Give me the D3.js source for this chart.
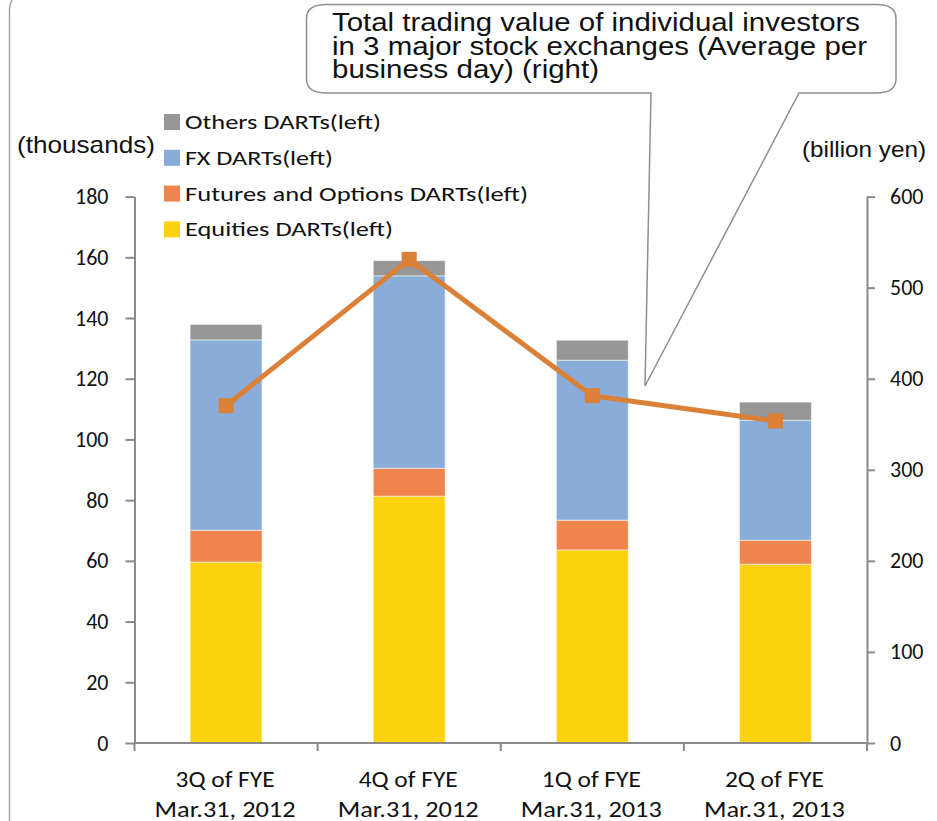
<!DOCTYPE html>
<html><head><meta charset="utf-8">
<script src="https://cdn.jsdelivr.net/npm/d3@7"></script>
<style>body{margin:0;background:#fff}svg{display:block}</style>
</head><body>
<svg id="c" width="937" height="821"></svg>
<script>
// ---- data ----
const categories = ["3Q FYE2012", "4Q FYE2012", "1Q FYE2013", "2Q FYE2013"];
const catLine1 = ["3Q of FYE", "4Q of FYE", "1Q of FYE", "2Q of FYE"];
const catLine2 = ["Mar.31, 2012", "Mar.31, 2012", "Mar.31, 2013", "Mar.31, 2013"];
const equities = [59.6, 81.3, 63.6, 58.9];
const futures = [10.5, 9.2, 9.8, 7.9];
const fx = [62.7, 63.4, 52.7, 39.5];
const others = [5.1, 5.0, 6.6, 6.0];
const tradingValue = [370.4, 531.1, 381.4, 353.6];
const leftTicks = [0, 20, 40, 60, 80, 100, 120, 140, 160, 180];
const rightTicks = [0, 100, 200, 300, 400, 500, 600];
const seriesNames = ["Equities DARTs(left)", "Futures and Options DARTs(left)", "FX DARTs(left)", "Others DARTs(left)"];
const seriesKeys = ["equities", "futures", "fx", "others"];
const seriesColors = ["#FCD20F", "#EF844C", "#8AACD8", "#979797"];
const calloutLines = ["Total trading value of individual investors", "in 3 major stock exchanges (Average per", "business day) (right)"];

const svg = d3.select("#c");
const calibri = "Carlito, Lato, 'Open Sans', sans-serif";
const arial = "'Liberation Sans', Arial, sans-serif";
const axisCol = "#8a8a8a";

// outer frame
svg.append("rect").attr("x", 9.5).attr("y", -12).attr("width", 1000).attr("height", 900)
  .attr("rx", 22).attr("fill", "#fff").attr("stroke", "#a6a6a6").attr("stroke-width", 1.5);

// scales
const x = d3.scaleBand().domain(categories).range([134.5, 867]).paddingInner(0.607).paddingOuter(0.3035);
const y = d3.scaleLinear().domain([0, 180]).range([743, 196.6]);
const yR = d3.scaleLinear().domain([0, 600]).range([743, 196.6]);

// stacked bars
const rows = categories.map((c, i) => ({cat: c, equities: equities[i], futures: futures[i], fx: fx[i], others: others[i]}));
const stack = d3.stack().keys(seriesKeys)(rows);
svg.append("g").selectAll("g").data(stack).join("g")
  .attr("fill", (d, i) => seriesColors[i])
  .selectAll("rect").data(d => d).join("rect")
  .attr("x", d => x(d.data.cat)).attr("width", x.bandwidth())
  .attr("y", d => y(d[1])).attr("height", d => y(d[0]) - y(d[1]))
  .attr("stroke", "rgba(255,255,255,0.55)").attr("stroke-width", 1);

// axes
function styleAxis(g) {
  g.selectAll(".domain").attr("stroke", axisCol).attr("stroke-width", 2);
  g.selectAll(".tick line").attr("stroke", axisCol).attr("stroke-width", 2);
  g.selectAll(".tick text").attr("fill", "#111").style("font-family", calibri).style("font-size", "22px");
}
svg.append("g").attr("transform", "translate(134.5,0)")
  .call(d3.axisLeft(y).tickValues(leftTicks).tickSize(9).tickPadding(17).tickSizeOuter(0))
  .call(styleAxis);
svg.append("g").attr("transform", "translate(867,0)")
  .call(d3.axisRight(yR).tickValues(rightTicks).tickSize(8).tickPadding(15).tickSizeOuter(0))
  .call(styleAxis);

// bottom axis
const bottom = svg.append("g");
bottom.append("line").attr("x1", x.range()[0]).attr("x2", x.range()[1]).attr("y1", y(0)).attr("y2", y(0))
  .attr("stroke", axisCol).attr("stroke-width", 2);
const bounds = d3.range(categories.length + 1).map(i => x.range()[0] + i * x.step());
bottom.selectAll("line.t").data(bounds).join("line").attr("class", "t")
  .attr("x1", d => d).attr("x2", d => d).attr("y1", y(0)).attr("y2", y(0) + 8)
  .attr("stroke", axisCol).attr("stroke-width", 2);
const cx = c => x(c) + x.bandwidth() / 2;
bottom.selectAll("text.l1").data(categories).join("text").attr("class", "l1")
  .attr("x", d => cx(d) - 1).attr("y", 787).attr("text-anchor", "middle")
  .style("font-family", calibri).style("font-size", "22px").attr("fill", "#111")
  .attr("textLength", 99).attr("lengthAdjust", "spacingAndGlyphs")
  .text((d, i) => catLine1[i]);
bottom.selectAll("text.l2").data(categories).join("text").attr("class", "l2")
  .attr("x", d => cx(d) - 1).attr("y", 817).attr("text-anchor", "middle")
  .style("font-family", calibri).style("font-size", "22px").attr("fill", "#111")
  .attr("textLength", 141).attr("lengthAdjust", "spacingAndGlyphs")
  .text((d, i) => catLine2[i]);

// line series (right axis)
const lineCol = "#DB8037";
const pts = categories.map((c, i) => [cx(c), yR(tradingValue[i])]);
svg.append("path").datum(pts).attr("d", d3.line()).attr("fill", "none")
  .attr("stroke", lineCol).attr("stroke-width", 5).attr("stroke-linejoin", "round");
svg.append("g").selectAll("rect").data(pts).join("rect")
  .attr("x", d => d[0] - 7.5).attr("y", d => d[1] - 7.5).attr("width", 15).attr("height", 15)
  .attr("fill", lineCol);

// axis titles
svg.append("text").attr("x", 17).attr("y", 153).style("font-family", arial).style("font-size", "24px")
  .attr("fill", "#111").attr("textLength", 138).attr("lengthAdjust", "spacingAndGlyphs").text("(thousands)");
svg.append("text").attr("x", 802).attr("y", 157).style("font-family", arial).style("font-size", "22px")
  .attr("fill", "#111").attr("textLength", 124).attr("lengthAdjust", "spacingAndGlyphs").text("(billion yen)");

// legend (top to bottom: Others, FX, Futures, Equities)
const legendOrder = [3, 2, 1, 0];
const legendWidths = [196, 148, 343, 208];
const leg = svg.append("g");
legendOrder.forEach((si, r) => {
  const base = 129 + r * 35.8;
  leg.append("rect").attr("x", 164).attr("y", base - 15).attr("width", 16).attr("height", 16)
    .attr("fill", seriesColors[si]);
  leg.append("text").attr("x", 185).attr("y", base).style("font-family", calibri).style("font-size", "21px")
    .attr("fill", "#111").attr("textLength", legendWidths[r]).attr("lengthAdjust", "spacingAndGlyphs")
    .text(seriesNames[si]);
});

// callout
const L = 306.5, R = 896, T = 4.5, B = 93, rx = 20, ry = 14;
const tip = [645, 386], w1 = 651, w2 = 799;
const p = d3.path();
p.moveTo(L + rx, T);
p.lineTo(R - rx, T);
p.quadraticCurveTo(R, T, R, T + ry);
p.lineTo(R, B - ry);
p.quadraticCurveTo(R, B, R - rx, B);
p.lineTo(w2, B);
p.lineTo(tip[0], tip[1]);
p.lineTo(w1, B);
p.lineTo(L + rx, B);
p.quadraticCurveTo(L, B, L, B - ry);
p.lineTo(L, T + ry);
p.quadraticCurveTo(L, T, L + rx, T);
p.closePath();
svg.append("path").attr("d", p.toString()).attr("fill", "#fff")
  .attr("stroke", "#8f8f8f").attr("stroke-width", 1.5).attr("stroke-linejoin", "miter");
const calloutWidths = [528, 535, 267];
const calloutBase = [31, 54.5, 78];
calloutLines.forEach((t, i) => {
  svg.append("text").attr("x", 332).attr("y", calloutBase[i]).style("font-family", arial).style("font-size", "25px")
    .attr("fill", "#111").attr("textLength", calloutWidths[i]).attr("lengthAdjust", "spacingAndGlyphs").text(t);
});
</script>
</body></html>
